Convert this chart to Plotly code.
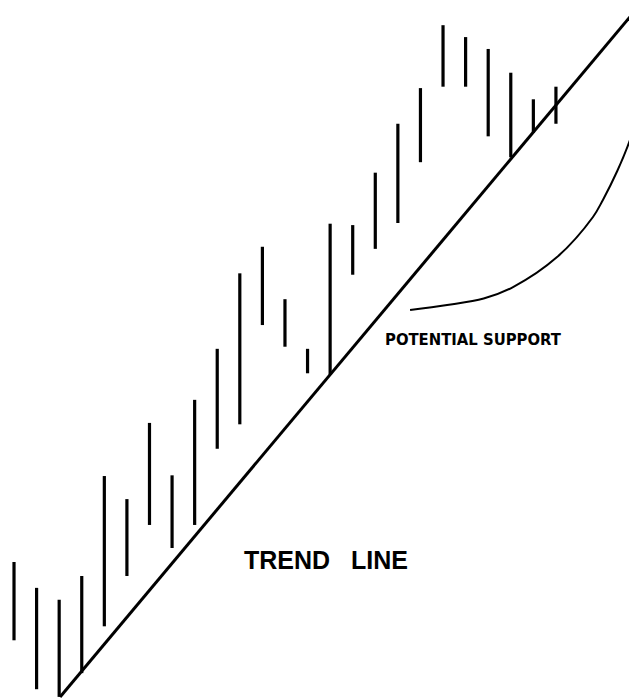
import plotly.graph_objects as go

# price bars: period index, high, low
periods = list(range(25))
highs = [19.6, 15.9, 14.2, 17.6, 31.9, 28.6, 39.5, 32.0, 42.8, 50.1, 60.9, 64.7, 57.2,
         50.1, 68.0, 67.8, 75.3, 82.3, 87.4, 96.4, 94.7, 93.0, 89.6, 85.8, 87.6]
lows = [8.4, 1.4, 0.3, 3.7, 10.4, 17.6, 24.9, 21.6, 24.9, 35.8, 39.3, 53.5, 50.4,
        46.6, 46.4, 60.7, 64.4, 68.1, 76.8, 87.6, 87.6, 80.5, 77.5, 81.0, 82.3]

# trend line end points
trend_x = [2.04, 27.41]
trend_y = [0.29, 98.1]

# potential support curve
curve_x = [17.54, 19.18, 20.8, 22.10, 24.05, 25.64, 26.08, 26.71, 27.28, 27.59, 27.75]
curve_y = [55.65, 56.37, 57.3, 58.94, 63.23, 68.96, 71.4, 75.5, 80.0, 83.3, 85.6]

bar_x, bar_y = [], []
for p, h, l in zip(periods, highs, lows):
    bar_x += [p, p, None]
    bar_y += [l, h, None]

fig = go.Figure()
fig.add_trace(go.Scatter(x=bar_x, y=bar_y, mode="lines",
                         line=dict(color="black", width=3.2)))
fig.add_trace(go.Scatter(x=trend_x, y=trend_y, mode="lines",
                         line=dict(color="black", width=3)))
fig.add_trace(go.Scatter(x=curve_x, y=curve_y, mode="lines", line_shape="spline",
                         line=dict(color="black", width=2)))

fig.add_annotation(x=20.37, y=51.4, text="<b>POTENTIAL SUPPORT</b>", showarrow=False,
                   font=dict(family="DejaVu Sans Condensed, Liberation Sans Narrow",
                             size=16.5, color="black"))
fig.add_annotation(x=13.82, y=19.9, text="<b>TREND\u00a0\u00a0\u00a0LINE</b>", showarrow=False,
                   font=dict(family="Liberation Sans, Arial", size=25, color="black"))

# page body has an 8px margin, so the plot spans screen pixels 8..637 and 8..699
fig.update_xaxes(range=[-0.266, 27.59], visible=False)
fig.update_yaxes(range=[0, 98.86], visible=False)
fig.update_layout(width=629, height=691, margin=dict(l=0, r=0, t=0, b=0),
                  showlegend=False, plot_bgcolor="white", paper_bgcolor="white")

fig.write_html("out.html")
